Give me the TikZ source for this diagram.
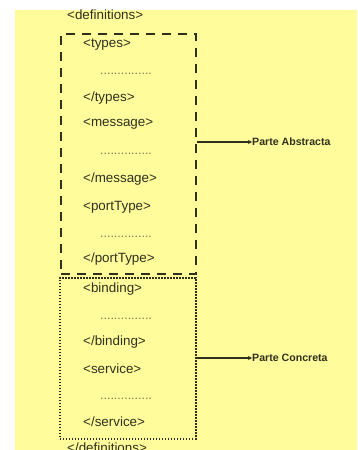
\documentclass[tikz,border=0pt]{standalone}
\usepackage{fontspec}
\setmainfont{Liberation Sans}
\usetikzlibrary{arrows.meta}
\definecolor{paper}{RGB}{255,253,155}
\definecolor{ink}{RGB}{48,48,30}
\definecolor{dotink}{RGB}{120,118,80}
\tikzset{
  x=1pt, y=-1pt,
  tag/.style={anchor=west, inner sep=0pt, text=ink, font=\fontsize{13.4}{14}\selectfont},
  dotrow/.style={anchor=west, inner sep=0pt, text=dotink, font=\fontsize{12.4}{14}\selectfont},
  part/.style={anchor=west, inner sep=0pt, text=ink, font=\bfseries\fontsize{10.6}{12}\selectfont},
  abstractbox/.style={draw=ink, line width=2.4pt, dash pattern=on 9pt off 7pt, inner sep=0pt, anchor=north west},
  concretebox/.style={draw=ink, line width=1.5pt, dash pattern=on 1.4pt off 1.6pt, inner sep=0pt, anchor=north west},
  link/.style={draw=ink, line width=1.8pt, -{Stealth[length=4pt,width=4pt]}}
}
\begin{document}
\begin{tikzpicture}
\useasboundingbox (0,0) rectangle (357,450);
\clip (0,0) rectangle (357,450);
\fill[white] (0,0) rectangle (357,450);
\fill[paper] (15,10) rectangle (357,450);

% outer element
\node[tag] (defo) at (67,15) {<definitions>};

% abstract part
\node[abstractbox, minimum width=135pt, minimum height=240pt] (abs) at (60,33) {};
\node[tag] (ty1) at (83,45) {<types>};
\node[dotrow] (d1) at (100,74) {...............};
\node[tag] (ty2) at (83,98) {</types>};
\node[tag] (ms1) at (83,124) {<message>};
\node[dotrow] (d2) at (100,154) {...............};
\node[tag] (ms2) at (83,179) {</message>};
\node[tag] (pt1) at (83,207) {<portType>};
\node[dotrow] (d3) at (100,237) {...............};
\node[tag] (pt2) at (83,259) {</portType>};

% concrete part
\node[concretebox, minimum width=136pt, minimum height=161pt] (con) at (59,277) {};
\node[tag] (bd1) at (83,289) {<binding>};
\node[dotrow] (d4) at (100,319) {...............};
\node[tag] (bd2) at (83,342) {</binding>};
\node[tag] (sv1) at (83,369) {<service>};
\node[dotrow] (d5) at (100,399) {...............};
\node[tag] (sv2) at (83,422) {</service>};

\node[tag] (defc) at (67,448) {</definitions>};

% labels on the right
\node[part] (pa) at (252,142) {Parte Abstracta};
\node[part] (pc) at (252,358) {Parte Concreta};
\draw[link] (abs.east |- pa.west) -- (pa.west);
\draw[link] (con.east |- pc.west) -- (pc.west);
\end{tikzpicture}
\end{document}
